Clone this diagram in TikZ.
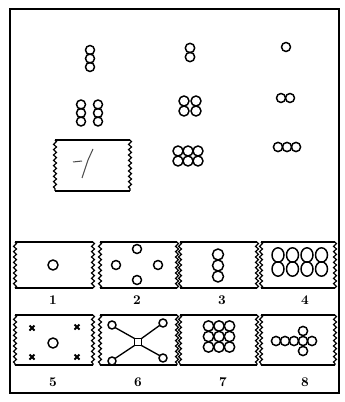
\documentclass[tikz,border=0pt]{standalone}
\usetikzlibrary{decorations.pathmorphing}

\tikzset{every picture/.style={line width=0.75pt}}
\tikzset{
  rim/.style={line width=1.8pt},
  wavy/.style={line width=0.9pt,decorate,decoration={snake,segment length=4pt,amplitude=1.1pt}},
  ring/.style={line width=1.1pt},
  numlabel/.style={font=\bfseries}
}

\begin{document}
\begin{tikzpicture}[x=0.75pt,y=0.75pt,yscale=-1,xscale=1]
\useasboundingbox (0,0) rectangle (344,402);

%Shape: Rectangle [outer frame]
\draw [line width=1.5pt] (10,9) -- (339,9) -- (339,393) -- (10,393) -- cycle ;

%Shape: Circles [matrix, column 1]
\foreach \y in {50,58.5,67} \draw [ring] (90,\y) circle (4.5) ;
\foreach \x in {81,98} \foreach \y in {104.5,113,121.5} \draw [ring] (\x,\y) circle (4.5) ;
%Shape: Circles [matrix, column 2]
\foreach \y in {48,57} \draw [ring] (190,\y) circle (4.7) ;
\foreach \x in {184,196} \foreach \y in {101,111} \draw [ring] (\x,\y) circle (5) ;
\foreach \x in {178,188,198} \foreach \y in {151,161} \draw [ring] (\x,\y) circle (5) ;
%Shape: Circles [matrix, column 3]
\draw [ring] (286,47) circle (4.5) ;
\foreach \x in {281,290} \draw [ring] (\x,98) circle (4.5) ;
\foreach \x in {278,287,296} \draw [ring] (\x,147) circle (4.6) ;

%Shape: Wavy box [empty cell]
\draw [rim] (55,140) -- (130,140) ;
\draw [rim] (55,191) -- (130,191) ;
\draw [wavy] (55,140) -- (55,191) ;
\draw [wavy] (130,140) -- (130,191) ;
%Shape: Mark
\draw [color=black!70] (73,162) -- (82,161) ;
\draw [color=black!70] (93,149) -- (88,160) -- (86,166) -- (82,178) ;

%Shape: Wavy boxes [options]
\foreach \xa/\xb in {15/93,100/177,180/257,261/335} {
  \foreach \ya/\yb in {242/288,315/365} {
    \draw [rim] (\xa,\ya) -- (\xb,\ya) ;
    \draw [rim] (\xa,\yb) -- (\xb,\yb) ;
    \draw [wavy] (\xa,\ya) -- (\xa,\yb) ;
    \draw [wavy] (\xb,\ya) -- (\xb,\yb) ;
  }
}

%Shape: Option 1
\draw [ring] (53,265) circle (5) ;
%Shape: Option 2
\foreach \x/\y in {137/249,116/265,158/265,137/280} \draw [ring] (\x,\y) circle (4.5) ;
%Shape: Option 3
\foreach \y in {254.5,265.5,276.5} \draw [ring] (218,\y) circle (5.5) ;
%Shape: Option 4
\foreach \x in {278,292.5,307,321.5} \foreach \y in {255,269} \draw [ring] (\x,\y) ellipse (6 and 7.2) ;
%Shape: Option 5
\draw [ring] (53,343) circle (5) ;
\foreach \x/\y in {32/328,77/327,32/357,77/357}
  \draw [line width=1.4pt] (\x-2.5,\y-2.5) -- (\x+2.5,\y+2.5) (\x-2.5,\y+2.5) -- (\x+2.5,\y-2.5) ;
%Shape: Option 6
\draw [ring] (134.5,338.5) rectangle (141.5,345.5) ;
\draw [line width=1pt] (134.5,338.5) -- (115,327.5) ;
\draw [line width=1pt] (141.5,338.5) -- (159.5,325.5) ;
\draw [line width=1pt] (134.5,345.5) -- (115,358.5) ;
\draw [line width=1pt] (141.5,345.5) -- (159.5,355.5) ;
\foreach \x/\y in {112/325,163/323,112/361,163/358} \draw [ring] (\x,\y) circle (4) ;
%Shape: Option 7
\foreach \x in {208.5,219,229.5} \foreach \y in {326,336.5,347} \draw [ring] (\x,\y) circle (5.2) ;
%Shape: Option 8
\foreach \x in {276,285,294,303,312} \draw [ring] (\x,341) circle (4.6) ;
\foreach \y in {331,351} \draw [ring] (303,\y) circle (4.6) ;

% Text Node
\draw (53,300) node [numlabel] (lab1) {1};
% Text Node
\draw (137,300) node [numlabel] (lab2) {2};
% Text Node
\draw (222,300) node [numlabel] (lab3) {3};
% Text Node
\draw (305,300) node [numlabel] (lab4) {4};
% Text Node
\draw (53,382) node [numlabel] (lab5) {5};
% Text Node
\draw (138,382) node [numlabel] (lab6) {6};
% Text Node
\draw (223,382) node [numlabel] (lab7) {7};
% Text Node
\draw (305,382) node [numlabel] (lab8) {8};

\end{tikzpicture}
\end{document}
